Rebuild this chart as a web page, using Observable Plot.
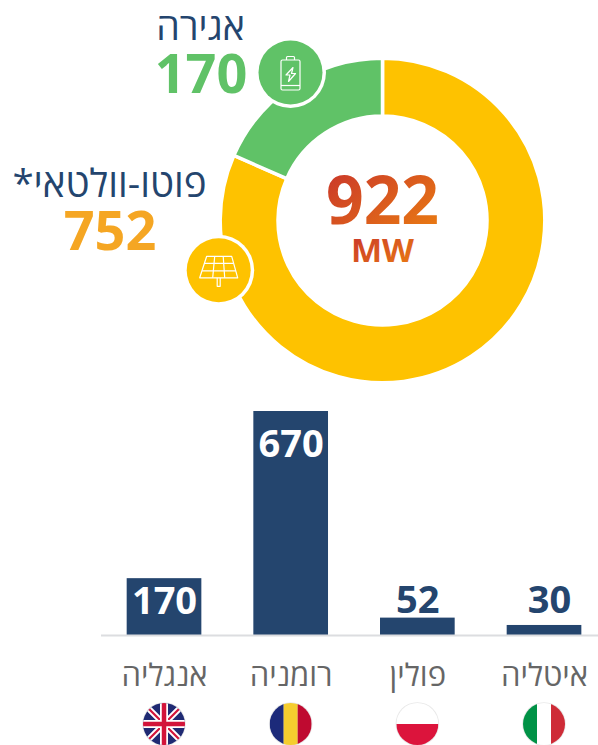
<!DOCTYPE html>
<html lang="he">
<head>
<meta charset="utf-8">
<script src="https://cdn.jsdelivr.net/npm/d3@7"></script>
<script src="https://cdn.jsdelivr.net/npm/@observablehq/plot@0.6"></script>
<style>
  html, body { margin: 0; padding: 0; background: #fff; overflow: hidden; }
  svg { display: block; }
  svg text { direction: rtl; unicode-bidi: embed; }
</style>
</head>
<body>
<div id="chart"></div>
<script>
// --- data ---
const techNames = ["פוטו-וולטאי*", "אגירה"];
const techValues = [752, 170];
const techColors = ["#fec200", "#60c267"];
const techTextColors = ["#f5a623", "#60c267"];
const totalValue = "922";
const totalUnit = "MW";

const countries = ["אנגליה", "רומניה", "פולין", "איטליה"];
const countryValues = [170, 670, 52, 30];
const flagCodes = ["uk", "ro", "pl", "it"];

const FONT = "'Open Sans', sans-serif";
const NAVY = "#24456e";

const slices = techNames.map((name, i) => ({name, value: techValues[i], color: techColors[i], text: techTextColors[i]}));
const bars = countries.map((name, i) => ({name, value: countryValues[i], flag: flagCodes[i]}));

// --- donut marks ---
function gradientDefs() {
  const defs = d3.create("svg:defs");
  const g = defs.append("linearGradient").attr("id", "totalGrad")
    .attr("x1", 0).attr("y1", 0).attr("x2", 1).attr("y2", 1);
  g.append("stop").attr("offset", "0%").attr("stop-color", "#c62f2d");
  g.append("stop").attr("offset", "100%").attr("stop-color", "#ec8110");
  return defs.node();
}

function donutMark(index, {x, y}) {
  const cx = x(382.5), cy = y(220.5);
  const arcs = d3.pie().sort(null).value(d => d.value)(slices);
  const arc = d3.arc().innerRadius(104.5).outerRadius(162.3);
  const g = d3.create("svg:g").attr("transform", `translate(${cx},${cy})`);
  g.selectAll("path").data(arcs).join("path")
    .attr("d", arc)
    .attr("fill", d => d.data.color)
    .attr("stroke", "#fff")
    .attr("stroke-width", 3.5);
  return g.node();
}

function badge(parent, cx, cy, color) {
  const g = parent.append("g").attr("transform", `translate(${cx},${cy})`);
  g.append("circle").attr("r", 35.5).attr("fill", "#fff");
  g.append("circle").attr("r", 32).attr("fill", color);
  return g.append("g").attr("fill", "none").attr("stroke", "#fff")
    .attr("stroke-width", 1.2).attr("stroke-linejoin", "round");
}

function iconsMark(index, {x, y}) {
  const root = d3.create("svg:g");
  // storage badge
  const b = badge(root, x(290.5), y(72.5), techColors[1]);
  b.append("path").attr("d", "M-9.5,-11 Q-9.5,-12.5 -8,-12.5 H8 Q9.5,-12.5 9.5,-11 V16 Q9.5,17.5 8,17.5 H-8 Q-9.5,17.5 -9.5,16 Z");
  b.append("path").attr("d", "M-4,-12.5 V-15 Q-4,-16 -3,-16 H3 Q4,-16 4,-15 V-12.5");
  b.append("path").attr("d", "M-9.5,13 H9.5");
  b.append("path").attr("d", "M2.5,-5 L-4.5,2.5 L-0.5,2.5 L-2,9 L5,1 L1,1 Z");
  // PV badge
  const s = badge(root, x(218.7), y(270.3), techColors[0]);
  s.append("path").attr("d", "M-12,-14 H13 L19,7.5 H-19 Z");
  s.append("path").attr("d", "M-14.5,-7 H15 M-16.5,0.5 H17");
  s.append("path").attr("d", "M-4,-14 L-6,7.5 M4.5,-14 L6,7.5");
  s.append("path").attr("d", "M-1.5,7.5 V16 H1.5 V7.5");
  return root.node();
}

const donutPlot = Plot.plot({
  width: 598, height: 395,
  margin: 0,
  x: {domain: [0, 598], range: [0, 598], axis: null},
  y: {domain: [0, 395], range: [0, 395], axis: null},
  style: {background: "transparent", fontFamily: FONT},
  marks: [
    gradientDefs,
    donutMark,
    iconsMark,
    Plot.text([slices[1]], {text: "name", x: 200, y: 39, fontSize: 37.5, fill: NAVY, lineAnchor: "bottom", fontFamily: FONT}),
    Plot.text([slices[1]], {text: d => String(d.value), x: 200.5, y: 92, fontSize: 54, fontWeight: 700, fill: d => d.text, lineAnchor: "bottom", fontFamily: FONT}),
    Plot.text([slices[0]], {text: "name", x: 109, y: 196, fontSize: 38.5, fill: NAVY, lineAnchor: "bottom", fontFamily: FONT}),
    Plot.text([slices[0]], {text: d => String(d.value), x: 109.5, y: 249.5, fontSize: 54, fontWeight: 700, fill: d => d.text, lineAnchor: "bottom", fontFamily: FONT}),
    Plot.text([totalValue], {text: d => d, x: 382, y: 223, fontSize: 66, fontWeight: 700, fill: "url(#totalGrad)", lineAnchor: "bottom", fontFamily: FONT}),
    Plot.text([totalUnit], {text: d => d, x: 382, y: 261, fontSize: 33, fontWeight: 700, fill: "url(#totalGrad)", lineAnchor: "bottom", fontFamily: FONT})
  ]
});

// --- flags under the bars ---
function flagsMark(index, {x}) {
  const bw = typeof x.bandwidth === "function" ? x.bandwidth() : x.bandwidth;
  const root = d3.create("svg:g");
  const R = 21;
  const defs = root.append("defs");
  defs.append("clipPath").attr("id", "flagClip").append("circle").attr("r", R);
  bars.forEach(d => {
    const outer = root.append("g").attr("transform", `translate(${x(d.name) + bw / 2},${329})`);
    outer.append("circle").attr("r", R + 0.8).attr("fill", "#e8e8e8");
    const g = outer.append("g").attr("clip-path", "url(#flagClip)");
    const rect = (a, b, w, h, c) => g.append("rect").attr("x", a).attr("y", b).attr("width", w).attr("height", h).attr("fill", c);
    if (d.flag === "it") {
      rect(-R, -R, 14, 2 * R, "#009246"); rect(-7, -R, 14, 2 * R, "#fff"); rect(7, -R, 14, 2 * R, "#ce2b37");
    } else if (d.flag === "pl") {
      rect(-R, -R, 2 * R, R, "#fff"); rect(-R, 0, 2 * R, R, "#dc143c");
    } else if (d.flag === "ro") {
      rect(-R, -R, 14, 2 * R, "#1c2a7a"); rect(-7, -R, 14, 2 * R, "#f5cd2f"); rect(7, -R, 14, 2 * R, "#bf0a30");
    } else {
      rect(-R, -R, 2 * R, 2 * R, "#1f2a73");
      const line = (dd, c, w) => g.append("path").attr("d", dd).attr("stroke", c).attr("stroke-width", w).attr("fill", "none");
      line(`M-${R},-${R} L${R},${R} M-${R},${R} L${R},-${R}`, "#fff", 6);
      line(`M-${R},-${R} L${R},${R} M-${R},${R} L${R},-${R}`, "#d2143a", 2.2);
      line(`M0,-${R} V${R} M-${R},0 H${R}`, "#fff", 8);
      line(`M0,-${R} V${R} M-${R},0 H${R}`, "#d2143a", 4.5);
    }
  });
  return root.node();
}

const barPlot = Plot.plot({
  width: 598, height: 350,
  marginTop: 16, marginBottom: 110, marginLeft: 101, marginRight: 0,
  x: {type: "band", round: false, domain: countries, range: [100.67, 607.35], paddingInner: 0.4105, paddingOuter: 0.2053, align: 0.5, axis: null},
  y: {domain: [0, 670], range: [240, 16], axis: null},
  style: {background: "transparent", fontFamily: FONT},
  marks: [
    Plot.barY(bars, {x: "name", y: "value", fill: NAVY}),
    Plot.ruleY([0], {stroke: "#dcdde0", strokeWidth: 2}),
    Plot.text(bars.filter(d => d.value === 670), {x: "name", y: "value", text: d => String(d.value), fill: "#fff", fontSize: 38, fontWeight: 700, dy: 45, lineAnchor: "bottom", fontFamily: FONT}),
    Plot.text(bars.filter(d => d.value === 170), {x: "name", y: "value", text: d => String(d.value), fill: "#fff", fontSize: 38, fontWeight: 700, dy: 35, lineAnchor: "bottom", fontFamily: FONT}),
    Plot.text(bars.filter(d => d.value === 52), {x: "name", y: "value", text: d => String(d.value), fill: NAVY, fontSize: 38, fontWeight: 700, dy: -5, lineAnchor: "bottom", fontFamily: FONT}),
    Plot.text(bars.filter(d => d.value === 30), {x: "name", y: "value", text: d => String(d.value), fill: NAVY, fontSize: 38, fontWeight: 700, dx: 5, dy: -12, lineAnchor: "bottom", fontFamily: FONT}),
    Plot.text(bars, {x: "name", y: d => 0, text: "name", fill: "#666", fontSize: 31, dy: 50, lineAnchor: "bottom", fontFamily: FONT}),
    flagsMark
  ]
});

document.getElementById("chart").append(donutPlot, barPlot);
</script>
</body>
</html>
